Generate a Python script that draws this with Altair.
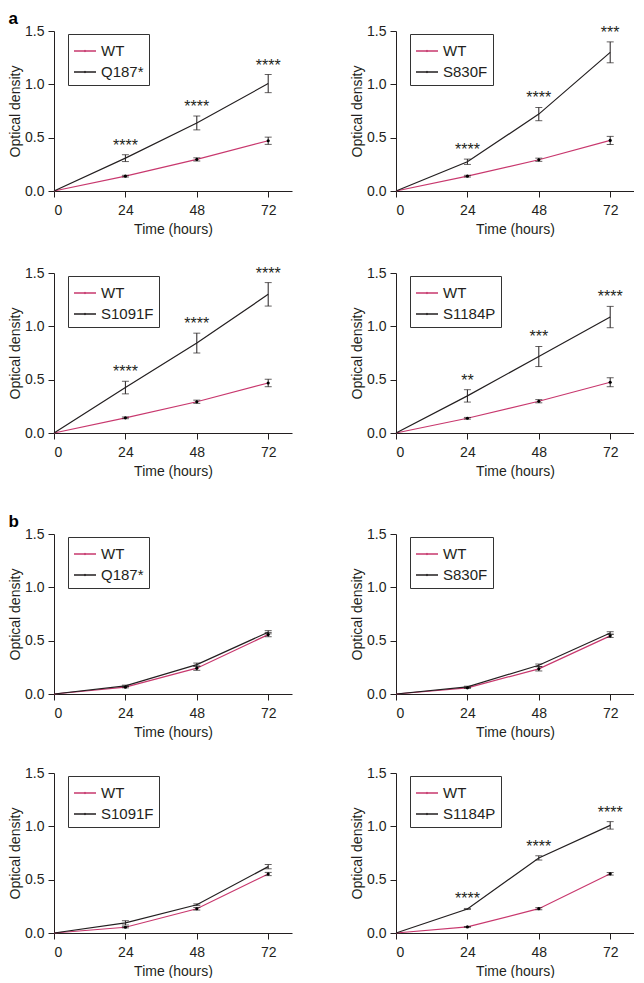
import altair as alt
import pandas as pd

hours = [0, 24, 48, 72]
mutants = ["Q187*", "S830F", "S1091F", "S1184P"]

# panel a
a_wt_mean = [[0, 0.139, 0.296, 0.471], [0, 0.139, 0.293, 0.474],
             [0, 0.142, 0.293, 0.469], [0, 0.138, 0.298, 0.476]]
a_wt_err = [[0, 0.008, 0.015, 0.034], [0, 0.008, 0.015, 0.038],
            [0, 0.008, 0.015, 0.035], [0, 0.008, 0.015, 0.042]]
a_mut_mean = [[0, 0.308, 0.638, 1.007], [0, 0.274, 0.721, 1.300],
              [0, 0.426, 0.843, 1.300], [0, 0.348, 0.717, 1.087]]
a_mut_err = [[0, 0.032, 0.065, 0.085], [0, 0.025, 0.062, 0.098],
             [0, 0.059, 0.093, 0.110], [0, 0.058, 0.094, 0.100]]
a_stars = [["****", "****", "****"], ["****", "****", "***"],
           ["****", "****", "****"], ["**", "***", "****"]]

# panel b
b_wt_mean = [[0, 0.064, 0.242, 0.557], [0, 0.058, 0.236, 0.545],
             [0, 0.054, 0.227, 0.553], [0, 0.057, 0.228, 0.555]]
b_wt_err = [[0, 0.006, 0.020, 0.020], [0, 0.006, 0.020, 0.015],
            [0, 0.006, 0.012, 0.015], [0, 0.004, 0.010, 0.012]]
b_mut_mean = [[0, 0.077, 0.275, 0.579], [0, 0.067, 0.269, 0.572],
              [0, 0.095, 0.265, 0.622], [0, 0.225, 0.704, 1.009]]
b_mut_err = [[0, 0.006, 0.015, 0.015], [0, 0.006, 0.012, 0.012],
             [0, 0.020, 0.008, 0.020], [0, 0.005, 0.020, 0.035]]
b_stars = [["", "", ""], ["", "", ""], ["", "", ""], ["****", "****", "****"]]

PINK = "#c8386e"
DARK = "#231f20"
FONT = "Liberation Sans"
W, H = 238, 160
LEG_SYMBOL = "M-1,0H1M-0.04,0A0.04,0.04 0 1,0 0.04,0A0.04,0.04 0 1,0 -0.04,0Z"


def panel(i, wt_mean, wt_err, mut_mean, mut_err, stars):
    mut = mutants[i]
    rows = []
    for s, m, e in (("WT", wt_mean[i], wt_err[i]), (mut, mut_mean[i], mut_err[i])):
        for h, v, ee in zip(hours, m, e):
            rows.append({"hour": h, "series": s, "od": v, "lo": v - ee, "hi": v + ee})
    df = pd.DataFrame(rows)
    sdf = pd.DataFrame({
        "hour": hours[1:],
        "top": [m + e for m, e in zip(mut_mean[i][1:], mut_err[i][1:])],
        "label": stars[i],
    })
    xs = alt.Scale(domain=[0, 80], nice=False)
    ys = alt.Scale(domain=[0, 1.5], nice=False)
    xax = alt.Axis(values=hours, title="Time (hours)")
    yax = alt.Axis(values=[0, 0.5, 1.0, 1.5], format=".1f", title="Optical density")

    def X(f):
        return alt.X(f, scale=xs, axis=xax, title="Time (hours)")

    def Y(f):
        return alt.Y(f, scale=ys, axis=yax, title="Optical density")

    lines = alt.Chart(df).mark_line(strokeWidth=1.2).encode(
        x=X("hour:Q"),
        y=Y("od:Q"),
        color=alt.Color("series:N",
                        scale=alt.Scale(domain=["WT", mut], range=[PINK, DARK]),
                        legend=alt.Legend(title=None, orient="none", legendX=14, legendY=3,
                                          strokeColor="#333333", padding=5,
                                          symbolType=LEG_SYMBOL, symbolSize=484,
                                          symbolFillColor=DARK,
                                          symbolStrokeWidth=1.4, labelFontSize=15,
                                          labelFont=FONT, labelColor=DARK,
                                          rowPadding=1, labelOffset=4)),
        order="hour:Q",
    )
    errs = alt.Chart(df[df["hour"] > 0]).mark_errorbar(
        ticks=True, size=7, thickness=1, color=DARK
    ).encode(
        x=X("hour:Q"),
        y=Y("lo:Q"),
        y2="hi:Q",
    )
    dots = alt.Chart(df[(df["series"] == "WT") & (df["hour"] > 0)]).mark_point(
        filled=True, size=10, color="black", opacity=1
    ).encode(
        x=X("hour:Q"),
        y=Y("od:Q"),
    )
    txt = alt.Chart(sdf).mark_text(
        fontSize=16, font=FONT, color=DARK, baseline="alphabetic", dy=-4
    ).encode(
        x=X("hour:Q"),
        y=Y("top:Q"),
        text="label:N",
    )
    return alt.layer(lines, errs, dots, txt).properties(width=W, height=H)


def row(idx, *args):
    return alt.hconcat(panel(idx[0], *args), panel(idx[1], *args), spacing=58).resolve_scale(
        color="independent").resolve_legend(color="independent")


a_args = (a_wt_mean, a_wt_err, a_mut_mean, a_mut_err, a_stars)
b_args = (b_wt_mean, b_wt_err, b_mut_mean, b_mut_err, b_stars)


def section(letter, args, spacing):
    return alt.vconcat(row((0, 1), *args), row((2, 3), *args), spacing=spacing).properties(
        title=alt.TitleParams(letter, anchor="start", fontSize=17, font=FONT,
                              fontWeight="bold", offset=-4, frame="bounds", color="black")
    ).resolve_scale(color="independent").resolve_legend(color="independent")


chart = alt.vconcat(section("a", a_args, 29), section("b", b_args, 27), spacing=35).resolve_scale(
    color="independent").resolve_legend(color="independent").properties(
    padding={"top": 2, "left": 0, "right": 0, "bottom": 0}
).configure_view(stroke=None).configure_axis(
    grid=False, domainColor=DARK, tickColor=DARK, labelColor=DARK, titleColor=DARK,
    labelFont=FONT, titleFont=FONT, labelFontSize=14, titleFontSize=14,
    titleFontWeight="normal", tickSize=6, domainWidth=1, tickWidth=1,
).configure_axisX(labelPadding=6, titlePadding=5).configure_axisY(
    labelPadding=4, titlePadding=2
)

chart.save("out.html", embed_options={"renderer": "svg", "actions": False})
